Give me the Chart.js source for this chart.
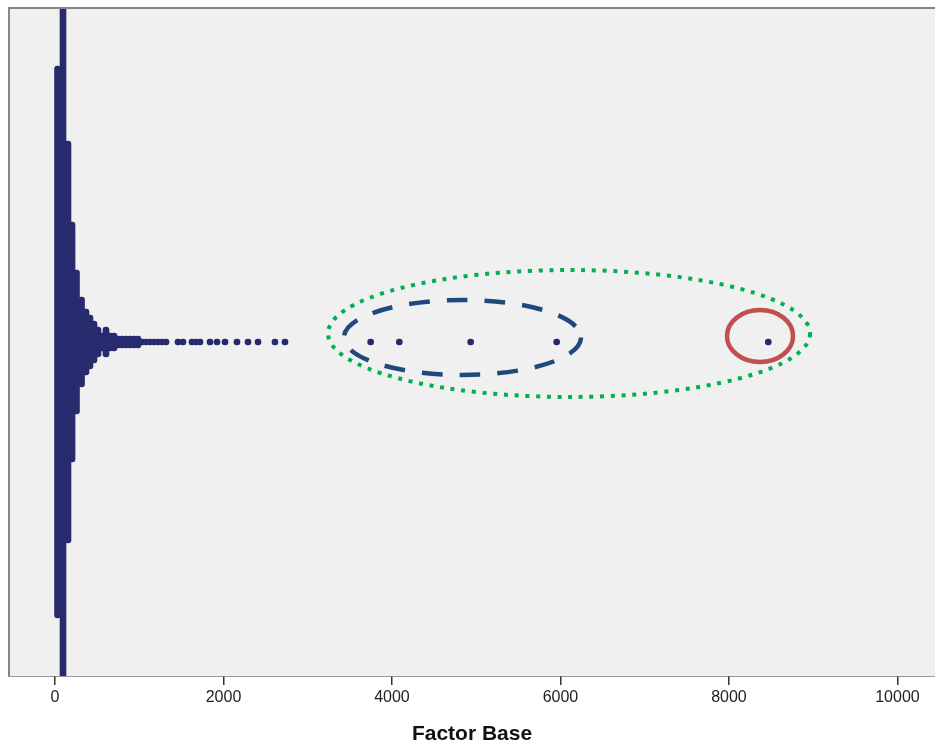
<!DOCTYPE html>
<html><head><meta charset="utf-8">
<script src="https://cdn.jsdelivr.net/npm/chart.js@4.4.0/dist/chart.umd.min.js"></script>
<style>html,body{margin:0;padding:0;background:#fff;overflow:hidden}</style>
</head><body>
<canvas id="c" width="935" height="743"></canvas>
<script>
// Dot plot data: bin value (Factor Base) and number of stacked dots in that bin
const binValues = [30, 95, 154, 202, 255, 315, 368, 415, 463, 510, 558, 605, 653, 700, 748, 795,
  843, 890, 938, 985, 1033, 1080, 1128, 1175, 1223, 1270, 1318,
  1460, 1519, 1626, 1674, 1721, 1840, 1923, 2018, 2160, 2291, 2410, 2611, 2730,
  3747, 4087, 4934, 5955, 8467];
const dotCounts = [92, 120, 67, 40, 24, 15, 11, 9, 7, 5, 3, 5, 3, 3, 2, 2,
  2, 2, 2, 2, 1, 1, 1, 1, 1, 1, 1,
  1, 1, 1, 1, 1, 1, 1, 1, 1, 1, 1, 1, 1,
  1, 1, 1, 1, 1];
const tickValues = [0, 2000, 4000, 6000, 8000, 10000];
const xTitle = 'Factor Base';

// Annotation ellipses (data units: x = Factor Base, y = dot units)
const annotations = [
  {cx: 6102, cy: 1.42, rx: 2861, ry: 10.58, color: '#00b050', width: 4, dash: [4, 6.7]},
  {cx: 4837, cy: 0.75, rx: 1407, ry: 6.25, color: '#1f497d', width: 4.5, dash: [20.7, 17]},
  {cx: 8369, cy: 1.0, rx: 392, ry: 4.33, color: '#c0504d', width: 4.5, dash: []}
];

const dotData = binValues.map((v, i) => ({x: v, y: [-dotCounts[i] / 2, dotCounts[i] / 2]}));

const framePlugin = {
  id: 'frame',
  beforeDatasetsDraw(chart) {
    const {ctx, chartArea: a} = chart;
    ctx.save();
    ctx.fillStyle = '#f0f0f0';
    ctx.fillRect(a.left, a.top, a.right - a.left, a.bottom - a.top);
    ctx.restore();
  },
  afterDatasetsDraw(chart) {
    const {ctx, chartArea: a, scales: {x, y}} = chart;
    ctx.save();
    annotations.forEach(an => {
      const px = x.getPixelForValue(an.cx);
      const py = y.getPixelForValue(an.cy);
      const rx = Math.abs(x.getPixelForValue(an.cx + an.rx) - px);
      const ry = Math.abs(y.getPixelForValue(an.cy + an.ry) - py);
      ctx.beginPath();
      ctx.strokeStyle = an.color;
      ctx.lineWidth = an.width;
      ctx.setLineDash(an.dash);
      ctx.lineCap = 'butt';
      ctx.ellipse(px, py, rx, ry, 0, 0, Math.PI * 2);
      ctx.stroke();
    });
    ctx.setLineDash([]);
    ctx.strokeStyle = '#858585';
    ctx.lineWidth = 2;
    ctx.beginPath();
    ctx.moveTo(a.left, a.bottom);
    ctx.lineTo(a.left, a.top);
    ctx.lineTo(a.right + 2, a.top);
    ctx.stroke();
    ctx.restore();
  }
};

new Chart(document.getElementById('c'), {
  type: 'bar',
  data: {
    datasets: [{
      data: dotData,
      backgroundColor: '#282a6e',
      borderWidth: 0,
      barThickness: 6,
      borderRadius: 3,
      borderSkipped: false
    }]
  },
  options: {
    responsive: false,
    animation: false,
    events: [],
    layout: {padding: {top: 8, left: 9, right: 0, bottom: 0}},
    plugins: {legend: {display: false}, tooltip: {enabled: false}},
    scales: {
      x: {
        type: 'linear',
        min: -546,
        max: 10446,
        offset: false,
        afterBuildTicks: s => { s.ticks = tickValues.map(v => ({value: v})); },
        afterFit: s => { s.height = 67; },
        grid: {display: true, offset: false, drawOnChartArea: false, drawTicks: true, tickLength: 9, color: '#333', lineWidth: 1.5},
        border: {display: true, color: '#333', width: 1.5},
        ticks: {color: '#222', padding: 3, font: {family: 'Liberation Sans, Arial, sans-serif', size: 16}, maxRotation: 0, autoSkip: false,
          callback: v => String(v)},
        title: {display: true, text: xTitle, color: '#111', padding: {top: 0, bottom: -2}, font: {family: 'Liberation Sans, Arial, sans-serif', size: 21, weight: 'bold', lineHeight: 1}}
      },
      y: {
        display: false,
        min: -55.67,
        max: 55.67
      }
    }
  },
  plugins: [framePlugin]
});
</script>
</body></html>
